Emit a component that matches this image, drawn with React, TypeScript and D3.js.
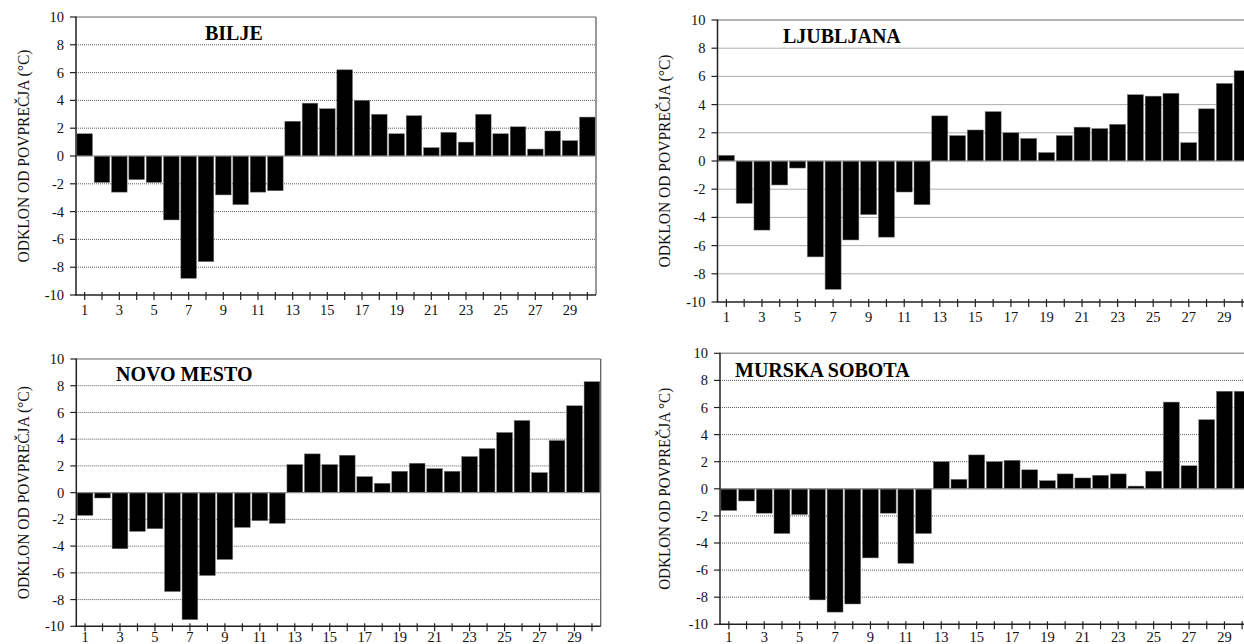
import * as d3 from "d3";
import React from "react";

// dnevi v mesecu
const days = d3.range(1, 31);
const yTicks = [-10, -8, -6, -4, -2, 0, 2, 4, 6, 8, 10];

// odklon od povprečja (°C)
const bilje = [
  1.6, -1.9, -2.6, -1.7, -1.9, -4.6, -8.8, -7.6, -2.8, -3.5, -2.6, -2.5, 2.5, 3.8, 3.4,
  6.2, 4.0, 3.0, 1.6, 2.9, 0.6, 1.7, 1.0, 3.0, 1.6, 2.1, 0.5, 1.8, 1.1, 2.8,
];
const ljubljana = [
  0.4, -3.0, -4.9, -1.7, -0.5, -6.8, -9.1, -5.6, -3.8, -5.4, -2.2, -3.1, 3.2, 1.8, 2.2,
  3.5, 2.0, 1.6, 0.6, 1.8, 2.4, 2.3, 2.6, 4.7, 4.6, 4.8, 1.3, 3.7, 5.5, 6.4,
];
const novoMesto = [
  -1.7, -0.4, -4.2, -2.9, -2.7, -7.4, -9.5, -6.2, -5.0, -2.6, -2.1, -2.3, 2.1, 2.9, 2.1,
  2.8, 1.2, 0.7, 1.6, 2.2, 1.8, 1.6, 2.7, 3.3, 4.5, 5.4, 1.5, 3.9, 6.5, 8.3,
];
const murskaSobota = [
  -1.6, -0.9, -1.8, -3.3, -1.9, -8.2, -9.1, -8.5, -5.1, -1.8, -5.5, -3.3, 2.0, 0.7, 2.5,
  2.0, 2.1, 1.4, 0.6, 1.1, 0.8, 1.0, 1.1, 0.2, 1.3, 6.4, 1.7, 5.1, 7.2, 7.2,
];

const FONT = "Liberation Serif, Times New Roman, serif";

interface PanelProps {
  values: number[];
  title: string;
  yLabel: string;
  labelLen: number;
  left: number;
  right: number;
  top: number;
  bottom: number;
  titleX: number;
  titleY: number;
  labelX: number;
}

const Panel: React.FC<PanelProps> = ({ values, title, yLabel, labelLen, left, right, top, bottom, titleX, titleY, labelX }) => {
  const x = d3
    .scaleBand<number>()
    .domain(days)
    .range([left, right])
    .paddingInner(0.1)
    .paddingOuter(0.05);
  const y = d3.scaleLinear().domain([-10, 10]).range([bottom, top]);
  const bw = x.bandwidth();
  const labelY = Math.min(bottom + 20, 642);

  return (
    <g>
      {/* mreža */}
      {yTicks
        .filter((t) => t !== 10 && t !== -10 && t !== 0)
        .map((t) => (
          <line key={"g" + t} x1={left} x2={right} y1={y(t)} y2={y(t)} stroke="#333" strokeWidth={0.8} strokeDasharray="1,1" />
        ))}
      {/* okvir */}
      <line x1={left} x2={right} y1={top} y2={top} stroke="#999" strokeWidth={1.5} />
      <line x1={right} x2={right} y1={top} y2={bottom} stroke="#555" strokeWidth={1.2} />
      {/* stolpci */}
      {values.map((v, i) => (
        <rect
          key={i}
          x={x(days[i])}
          width={bw}
          y={y(Math.max(0, v))}
          height={Math.abs(y(v) - y(0))}
          fill="#000"
          stroke="#777"
          strokeWidth={0.5}
        />
      ))}
      <line x1={left} x2={right} y1={y(0)} y2={y(0)} stroke="#888" strokeWidth={1.2} />
      {/* os y */}
      <line x1={left} x2={left} y1={top - 0.5} y2={bottom} stroke="#222" strokeWidth={1.5} />
      {yTicks.map((t) => (
        <g key={"y" + t}>
          <line x1={left - 6} x2={left} y1={y(t)} y2={y(t)} stroke="#222" strokeWidth={1.2} />
          <text x={left - 12} y={y(t)} dy="0.35em" textAnchor="end" fontSize={14.5} fontFamily={FONT} fill="#111">
            {t}
          </text>
        </g>
      ))}
      {/* os x */}
      <line x1={left - 1} x2={right} y1={bottom} y2={bottom} stroke="#222" strokeWidth={1.5} />
      {days.map((d) => {
        const cx = (x(d) as number) + bw / 2;
        return (
          <g key={"x" + d}>
            <line x1={cx} x2={cx} y1={bottom - 3} y2={bottom + 5} stroke="#222" strokeWidth={1.2} />
            {d % 2 === 1 && (
              <text x={cx} y={labelY} textAnchor="middle" fontSize={14.5} fontFamily={FONT} fill="#111">
                {d}
              </text>
            )}
          </g>
        );
      })}
      <text x={titleX} y={titleY} fontSize={20} fontWeight="bold" fontFamily={FONT} fill="#000">
        {title}
      </text>
      <text
        transform={`translate(${labelX},${(top + bottom) / 2}) rotate(-90)`}
        textAnchor="middle"
        fontSize={17.5}
        fontFamily={FONT}
        fill="#111"
        textLength={labelLen}
        lengthAdjust="spacingAndGlyphs"
      >
        {yLabel}
      </text>
    </g>
  );
};

const App: React.FC = () => {
  return (
    <svg
      width={1244}
      height={644}
      style={{ position: "fixed", left: 0, top: 0, background: "#fff" }}
    >
      <Panel values={bilje} title="BILJE" yLabel="ODKLON OD POVPREČJA (°C)" labelLen={213} left={76} right={596} top={17} bottom={295} titleX={205} titleY={40} labelX={29} />
      <Panel values={ljubljana} title="LJUBLJANA" yLabel="ODKLON OD POVPREČJA (°C)" labelLen={213} left={717.5} right={1251} top={20} bottom={302} titleX={783} titleY={43} labelX={670} />
      <Panel values={novoMesto} title="NOVO MESTO" yLabel="ODKLON OD POVPREČJA (°C)" labelLen={213} left={76.3} right={600.7} top={359} bottom={626.3} titleX={116} titleY={381} labelX={29} />
      <Panel values={murskaSobota} title="MURSKA SOBOTA" yLabel="ODKLON OD POVPREČJA °C)" labelLen={202} left={720} right={1251} top={353.3} bottom={624.3} titleX={735} titleY={377} labelX={670} />
    </svg>
  );
};

export default App;
